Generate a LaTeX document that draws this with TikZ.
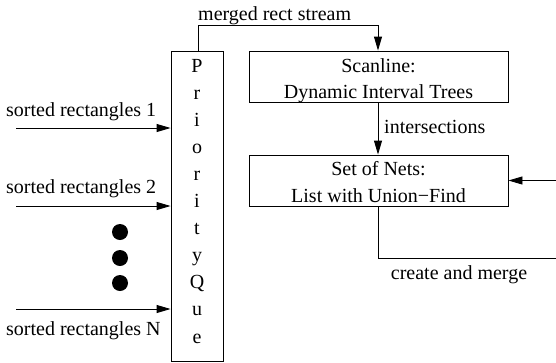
\documentclass[tikz,border=0pt]{standalone}
\usepackage{fontspec}
\setmainfont{Liberation Serif}
\usetikzlibrary{arrows.meta}
\begin{document}
\begin{tikzpicture}[x=1bp,y=-1bp,
  font=\fontsize{20bp}{24bp}\selectfont,
  box/.style={draw, line width=0.9bp, inner sep=0pt},
  arr/.style={draw, line width=0.9bp, -{Triangle[length=14bp,width=8bp]}},
  plain/.style={draw, line width=0.9bp},
  lbl/.style={inner sep=0pt, anchor=base},
  dot/.style={circle, fill=black, inner sep=0pt, minimum size=16bp}]
\useasboundingbox (0,0) rectangle (556,362);
\clip (0,0) rectangle (556,362);
% boxes
\node[box, minimum width=52bp, minimum height=310bp] (pq) at (197,206) {};
\node[box, minimum width=259bp, minimum height=51bp] (scan) at (378.5,76.5) {};
\node[box, minimum width=259bp, minimum height=51bp] (nets) at (378.5,180.5) {};
% priority queue letters
\foreach \c [count=\i from 0] in {P,r,i,o,r,i,t,y,Q,u,e}
  \node[lbl] (pq\i) at (197,72+27.1*\i) {\c};
% box texts
\node[lbl] (scan1) at (378.5,72) {Scanline:};
\node[lbl] (scan2) at (378.5,98) {Dynamic Interval Trees};
\node[lbl] (nets1) at (378.5,175) {Set of Nets:};
\node[lbl] (nets2) at (378.5,202) {List with Union−Find};
% inputs
\coordinate (in1) at (16,128);
\coordinate (in2) at (16,206);
\coordinate (inN) at (16,309);
\draw[arr] (in1) -- (in1 -| pq.west);
\draw[arr] (in2) -- (in2 -| pq.west);
\draw[arr] (inN) -- (inN -| pq.west);
\node[lbl, anchor=base west] (l1) at (6,116) {sorted rectangles 1};
\node[lbl, anchor=base west] (l2) at (6,193) {sorted rectangles 2};
\node[lbl, anchor=base west] (lN) at (6,335) {sorted rectangles N};
\node[dot] (d1) at (120,232) {};
\node[dot] (d2) at (120,258) {};
\node[dot] (d3) at (120,283) {};
% merged stream
\coordinate (m1) at (198,25);
\coordinate (m2) at (378,25);
\draw[arr] (pq.north -| m1) -- (m1) -- (m2) -- (scan.north -| m2);
\node[lbl, anchor=base west] (ml) at (198,20) {merged rect stream};
% intersections
\draw[arr] (scan.south -| m2) -- (nets.north -| m2);
\node[lbl, anchor=base west] (il) at (384,133) {intersections};
% feedback
\coordinate (f1) at (378,258);
\coordinate (f2) at (575,258);
\coordinate (f3) at (575,180.5);
\draw[arr] (nets.south -| f1) -- (f1) -- (f2) -- (f3) -- (nets.east);
\node[lbl] (cl) at (459,279) {create and merge};
\end{tikzpicture}
\end{document}
